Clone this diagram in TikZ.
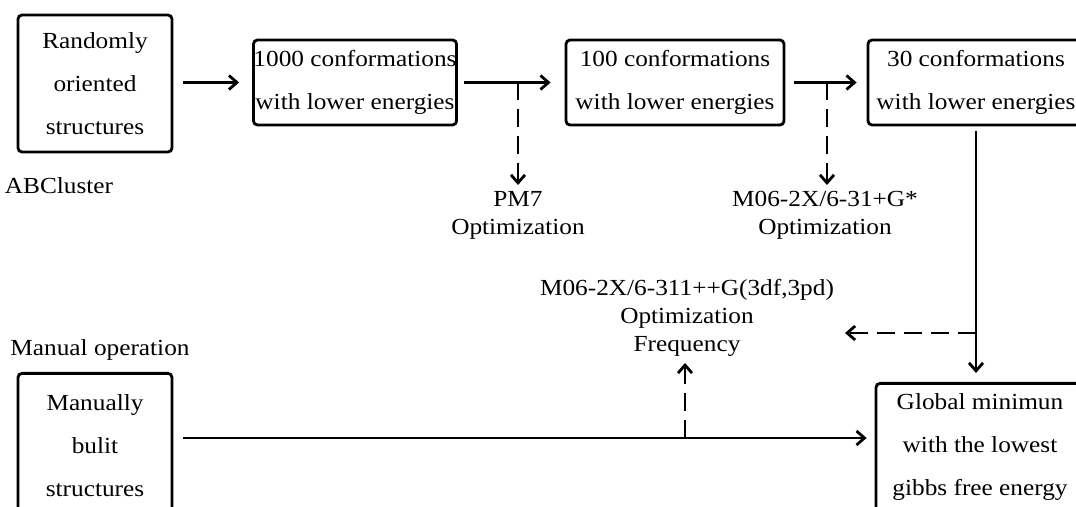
\documentclass[tikz,border=0pt]{standalone}
\usepackage{fontspec}
\setmainfont{Liberation Serif}[FakeStretch=1.1]
\usetikzlibrary{arrows, arrows.meta, positioning, calc}

\begin{document}
\begin{tikzpicture}[x=0.5pt, y=-0.5pt, >={Straight Barb[length=4pt,width=7pt]},
    box/.style={rectangle,draw,line width=1.4pt,rounded corners=2pt,align=center,inner sep=0pt,font=\fontsize{11.5}{21.5}\selectfont},
    lbl/.style={align=center,inner sep=0pt,font=\fontsize{11.5}{14}\selectfont},
    link/.style={->,line width=1.4pt},
    dlink/.style={->,line width=1.4pt,dash pattern=on 9pt off 4.5pt}]
    \useasboundingbox (0,0) rectangle (1076,507);

    % Ricerca con ABCluster
    \node[box,minimum width=77pt,minimum height=68.5pt] (rand) at (95,83.5) {Randomly\\oriented\\structures};
    \node[lbl] (abc) at (59,186) {ABCluster};
    \node[box,minimum width=97pt,minimum height=42.5pt] (c1000) at (355,82.5) {1000 conformations\\with lower energies};
    \node[box,minimum width=109pt,minimum height=42.5pt] (c100) at (675,82.5) {100 conformations\\with lower energies};
    \node[box,minimum width=108pt,minimum height=42.5pt] (c30) at (976,82.5) {30 conformations\\with lower energies};

    \draw[link,shorten <=5pt,shorten >=6.5pt] (rand.east |- c1000.west) -- (c1000.west);
    \draw[link,shorten <=3pt,shorten >=7pt] (c1000.east) -- (c100.west);
    \draw[link,shorten <=4.5pt,shorten >=5pt] (c100.east) -- (c30.west);

    % Ottimizzazioni intermedie
    \coordinate (j1) at (518,82.5);
    \coordinate (j2) at (827,82.5);
    \node[lbl,anchor=north] (pm7) at (518,191) {PM7\\Optimization};
    \node[lbl,anchor=north] (dft) at (825,191) {M06-2X/6-31+G*\\Optimization};
    \draw[dlink,shorten >=3pt] (j1) -- (j1 |- pm7.north);
    \draw[dlink,shorten >=3pt] (j2) -- (j2 |- dft.north);

    % Minimo globale
    \node[box,minimum width=104pt,minimum height=64pt,anchor=north] (glob) at (980,382) {Global minimun\\with the lowest\\gibbs free energy};
    \draw[link,shorten <=2.5pt,shorten >=4.5pt] (c30.south) -- (c30.south |- glob.north);
    \coordinate (j3) at (976,333);
    \coordinate (k) at (845,333);
    \draw[dlink] (j3) -- (k);

    % Strutture costruite a mano
    \node[lbl] (manop) at (100,350) {Manual operation};
    \node[box,minimum width=77pt,minimum height=72pt,anchor=north] (manu) at (95,372) {Manually\\bulit\\structures};
    \coordinate (j4) at (685,438);
    \draw[link,shorten <=5pt,shorten >=4pt] (manu.east |- j4) -- (glob.west |- j4);
    \node[lbl,anchor=north] (opt) at (687,279) {M06-2X/6-311++G(3df,3pd)\\Optimization\\Frequency};
    \draw[dlink,shorten >=3pt] (j4) -- (j4 |- opt.south);
\end{tikzpicture}
\end{document}
